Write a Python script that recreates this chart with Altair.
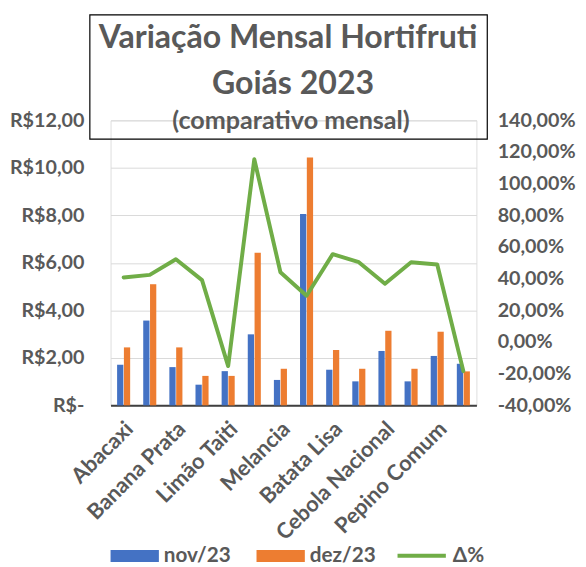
import altair as alt
import pandas as pd

CATEGORIES = ["Abacaxi", "Banana Nanica", "Banana Prata", "Laranja Pera", "Limão Taiti",
              "Mamão Formosa", "Melancia", "Abóbora", "Batata Lisa", "Beterraba",
              "Cebola Nacional", "Cenoura", "Pepino Comum", "Tomate"]
SHOWN_LABELS = CATEGORIES[::2]
NOV = [1.71, 3.57, 1.61, 0.87, 1.44, 2.99, 1.07, 8.06, 1.50, 1.01, 2.29, 1.01, 2.08, 1.75]
DEZ = [2.44, 5.10, 2.44, 1.24, 1.24, 6.42, 1.54, 10.44, 2.33, 1.54, 3.14, 1.54, 3.10, 1.43]
VAR = [40.8, 42.4, 52.3, 39.1, -15.2, 115.5, 44.1, 29.2, 55.5, 50.4, 36.8, 50.4, 49.0, -18.4]
SERIES = ["nov/23", "dez/23"]
LINE_NAME = "Δ%"
LEFT_TICKS = [0, 2, 4, 6, 8, 10, 12]
RIGHT_TICKS = [-40, -20, 0, 20, 40, 60, 80, 100, 120, 140]
TITLE_1 = "Variação Mensal Hortifruti"
TITLE_2 = "Goiás 2023"
SUBTITLE = "(comparativo mensal)"

BLUE, ORANGE, GREEN = "#4472c4", "#ed7d31", "#70ad47"
TXT = "#595959"
FONT = "Lato"

df_bar = pd.DataFrame({
    "produto": CATEGORIES * 2,
    "mes": [SERIES[0]] * len(CATEGORIES) + [SERIES[1]] * len(CATEGORIES),
    "preco": NOV + DEZ,
})
df_line = pd.DataFrame({"produto": CATEGORIES, "serie": [LINE_NAME] * len(CATEGORIES), "var": VAR})
df_one = pd.DataFrame({"k": [0]})

x_enc = alt.X(
    "produto:N", sort=CATEGORIES, title=None,
    scale=alt.Scale(paddingInner=0.5, paddingOuter=0.25),
    axis=alt.Axis(values=SHOWN_LABELS, labelAngle=-45, labelAlign="right", labelBaseline="middle",
                  labelFont=FONT, labelFontSize=22, labelFontWeight="bold", labelColor=TXT,
                  labelPadding=20, labelOffset=6, ticks=False, domain=True, domainColor="#404040",
                  domainWidth=2, grid=False, labelOverlap=False),
)

bars = alt.Chart(df_bar).mark_bar().encode(
    x=x_enc,
    xOffset=alt.XOffset("mes:N", sort=SERIES, scale=alt.Scale(paddingInner=0.08, paddingOuter=0)),
    y=alt.Y("preco:Q", title=None, scale=alt.Scale(domain=[0, 12], nice=False),
            axis=alt.Axis(orient="left", values=LEFT_TICKS,
                          labelExpr="datum.value == 0 ? 'R$-' : 'R$' + replace(format(datum.value, '.2f'), '.', ',')",
                          labelFont=FONT, labelFontSize=20, labelFontWeight="bold", labelColor=TXT,
                          labelPadding=27, domain=False, ticks=False, grid=True,
                          gridColor="#d9d9d9", gridWidth=1)),
    color=alt.Color("mes:N", sort=SERIES, scale=alt.Scale(domain=SERIES, range=[BLUE, ORANGE]),
                    legend=alt.Legend(title=None, orient="none", direction="horizontal",
                                      legendX=0, legendY=417,
                                      symbolType="M-1,-0.245H1V0.245H-1Z", symbolSize=2401,
                                      symbolStrokeWidth=0,
                                      labelFont=FONT, labelFontSize=21, labelFontWeight="bold",
                                      labelColor=TXT, labelOffset=5, columnPadding=26)),
)

line = alt.Chart(df_line).mark_line(strokeWidth=4, strokeCap="round", strokeJoin="round").encode(
    x=x_enc,
    y=alt.Y("var:Q", title=None, scale=alt.Scale(domain=[-40, 140], nice=False),
            axis=alt.Axis(orient="right", values=RIGHT_TICKS,
                          labelExpr="replace(replace(format(datum.value, '.2f'), '.', ','), '\u2212', '-') + '%'",
                          labelFont=FONT, labelFontSize=20, labelFontWeight="bold", labelColor=TXT,
                          labelPadding=21, labelAlign="left", domain=False, ticks=False, grid=False)),
    stroke=alt.Stroke("serie:N", scale=alt.Scale(domain=[LINE_NAME], range=[GREEN]),
                      legend=alt.Legend(title=None, orient="none", direction="horizontal",
                                        legendX=289, legendY=415,
                                        symbolType="M-1,0H1", symbolSize=2401, symbolStrokeWidth=4,
                                        labelFont=FONT, labelFontSize=21, labelFontWeight="bold",
                                        labelColor=TXT, labelOffset=5)),
)

box = alt.Chart(df_one).mark_rect(fillOpacity=0, stroke="black", strokeWidth=1.2).encode(
    x=alt.value(-21), x2=alt.value(382), y=alt.value(-107), y2=alt.value(19))

t1 = alt.Chart(df_one).mark_text(text=TITLE_1, font=FONT, fontSize=32.5, fontWeight="bold",
                                 color=TXT, align="center", baseline="alphabetic").encode(
    x=alt.value(180), y=alt.value(-73))
t2 = alt.Chart(df_one).mark_text(text=TITLE_2, font=FONT, fontSize=32.5, fontWeight="bold",
                                 color=TXT, align="center", baseline="alphabetic").encode(
    x=alt.value(185), y=alt.value(-27))
t3 = alt.Chart(df_one).mark_text(text=SUBTITLE, font=FONT, fontSize=25.5, fontWeight="bold",
                                 color=TXT, align="center", baseline="alphabetic").encode(
    x=alt.value(183), y=alt.value(9))

chart = alt.layer(bars, line, box, t1, t2, t3).resolve_scale(
    y="independent", color="independent", stroke="independent"
).properties(
    width=371, height=289,
    autosize=alt.AutoSizeParams(type="none"),
    padding={"left": 104, "top": 110, "right": 103, "bottom": 160},
).configure_view(stroke=None).configure(background="white")

chart.save("out.html", embed_options={"renderer": "svg", "actions": False})
